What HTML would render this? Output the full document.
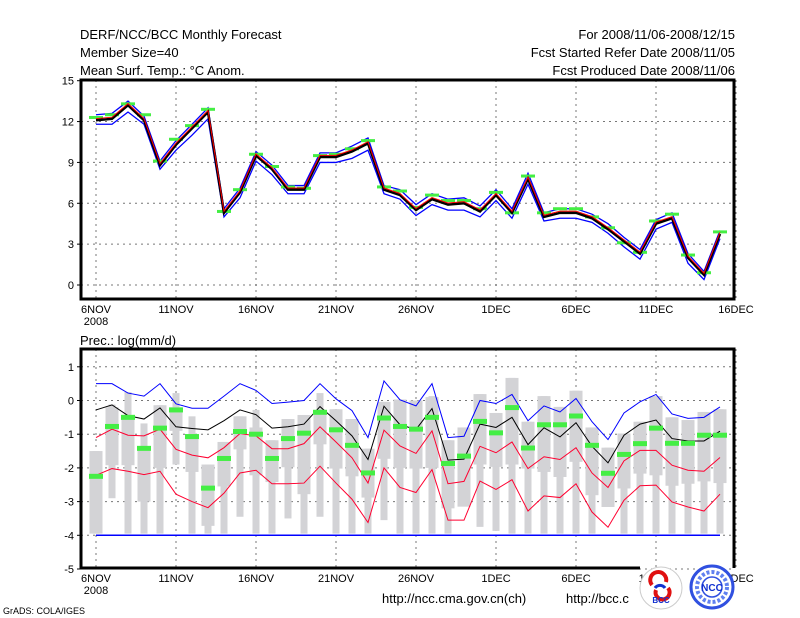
<!DOCTYPE html>
<html><head><meta charset="utf-8"><style>
html,body{margin:0;padding:0;background:#fff;}
svg{display:block;font-family:"Liberation Sans",sans-serif;}
</style></head><body>
<svg id="c" width="800" height="618" viewBox="0 0 800 618">
<g font-size="13" fill="#000">
<text x="80" y="39">DERF/NCC/BCC Monthly Forecast</text>
<text x="80" y="57">Member Size=40</text>
<text x="80" y="75">Mean Surf. Temp.: °C Anom.</text>
<text x="735" y="39" text-anchor="end">For 2008/11/06-2008/12/15</text>
<text x="735" y="57" text-anchor="end">Fcst Started Refer Date 2008/11/05</text>
<text x="735" y="75" text-anchor="end">Fcst Produced Date 2008/11/06</text>
<text x="80" y="345">Prec.: log(mm/d)</text>
<text x="382" y="603">http://ncc.cma.gov.cn(ch)</text>
<text x="566" y="603">http://bcc.c</text>
<text x="3" y="614" font-size="9">GrADS: COLA/IGES</text>
</g>
<g id="top"></g>
<g id="bot"></g>
<g>
<circle cx="661" cy="588" r="21" fill="#fff" stroke="#ccc"/>
<path d="M652 585 a8 8 0 1 1 14 -3 M656 590 a7 7 0 1 0 12 -2" stroke="#e01010" stroke-width="4" fill="none"/>
<path d="M655 588 a6 6 0 0 1 10 0" stroke="#1030d0" stroke-width="3" fill="none"/>
<text x="661" y="603" font-size="8" text-anchor="middle" fill="#1030d0" font-weight="bold">BCC</text>
<circle cx="712" cy="587" r="21" fill="#fff" stroke="#3050e0" stroke-width="3"/>
<circle cx="712" cy="587" r="15" fill="none" stroke="#6080f0" stroke-width="4" stroke-dasharray="3,2"/>
<circle cx="712" cy="587" r="10" fill="none" stroke="#3050e0" stroke-width="1.5"/>
<text x="712" y="591" font-size="10" text-anchor="middle" fill="#1030d0" font-weight="bold">NCC</text>
</g>
</svg>
<script>
const days=["6NOV","11NOV","16NOV","21NOV","26NOV","1DEC","6DEC","11DEC","16DEC"];
const tMean=[12.1,12.2,13.2,12.1,8.8,10.3,11.5,12.7,5.3,6.8,9.5,8.5,7.0,7.0,9.4,9.4,9.8,10.4,7.0,6.6,5.5,6.3,5.9,6.0,5.4,6.6,5.3,7.8,5.0,5.3,5.3,4.9,4.1,3.2,2.3,4.5,4.9,2.0,0.75,3.75];
const tUp=[12.5,12.6,13.5,12.4,9.1,10.6,11.8,13.0,5.6,7.1,9.8,8.8,7.3,7.3,9.7,9.7,10.2,10.8,7.3,7.0,5.9,6.7,6.3,6.4,5.8,7.0,5.6,8.2,5.3,5.6,5.6,5.2,4.5,3.5,2.6,4.8,5.3,2.3,1.0,4.0];
const tLo=[11.8,11.8,12.7,11.8,8.5,9.9,11.0,12.2,5.0,6.4,9.1,8.1,6.7,6.7,9.0,9.0,9.3,9.9,6.7,6.3,5.1,5.9,5.5,5.5,5.0,6.2,4.9,7.4,4.7,4.9,4.9,4.6,3.8,2.8,1.9,4.1,4.6,1.6,0.4,3.4];
const tObs=[12.3,12.5,13.3,12.5,9.1,10.7,11.7,12.9,5.4,7.0,9.6,8.7,7.2,7.1,9.5,9.6,10.0,10.6,7.2,6.9,5.7,6.6,6.2,6.2,5.6,6.8,5.3,8.0,5.3,5.6,5.6,5.0,4.2,3.1,2.4,4.7,5.2,2.2,0.9,3.9];
const pWhiskTop=[-1.5,-0.12,0.25,-0.68,-0.14,0.22,-0.47,-1.9,-1.23,-0.47,-0.28,-1.18,-0.55,-0.43,0.22,-0.26,-0.55,-1.43,-0.04,0.03,0.0,0.13,-1.18,-0.8,0.19,-0.37,0.67,-0.63,0.13,-0.19,0.29,-0.8,-1.4,-0.98,-0.63,0.13,-0.5,-0.58,-0.34,-0.26];
const pWhiskBot=[-3.95,-2.9,-3.95,-3.95,-3.95,-1.9,-3.95,-3.95,-3.95,-3.45,-3.95,-3.95,-3.5,-3.95,-3.45,-3.95,-3.95,-3.95,-3.55,-3.95,-3.95,-3.95,-3.95,-3.1,-3.75,-3.87,-3.95,-3.95,-3.95,-3.95,-3.95,-3.95,-3.16,-3.95,-3.95,-3.95,-3.95,-3.95,-3.95,-3.95];
const pBoxTop=[-1.5,-0.2,-0.45,-1.38,-0.14,-0.2,-1.0,-1.9,-1.23,-0.47,-0.8,-1.18,-0.55,-0.43,-0.28,-0.26,-0.55,-1.43,-0.04,0.03,0.0,0.1,-1.18,-0.8,0.19,-0.37,0.67,-0.63,0.13,-0.19,0.29,-0.8,-1.4,-0.98,-0.63,0.13,-0.5,-0.58,-0.34,-0.26];
const pBoxBot=[-3.95,-1.92,-1.92,-3.0,-2.0,-0.9,-2.12,-3.72,-2.55,-1.45,-2.22,-2.42,-1.98,-2.78,-1.3,-2.02,-2.25,-2.88,-1.73,-2.0,-2.02,-2.0,-3.2,-3.15,-1.9,-1.97,-1.9,-2.02,-2.12,-2.27,-1.82,-2.81,-3.16,-2.61,-2.17,-2.22,-2.53,-2.47,-2.4,-2.45];
const pObs=[-2.25,-0.77,-0.5,-1.42,-0.82,-0.28,-1.07,-2.6,-1.72,-0.92,-1.0,-1.72,-1.13,-0.97,-0.35,-0.87,-1.33,-2.15,-0.52,-0.77,-0.85,-0.5,-1.87,-1.65,-0.62,-0.96,-0.21,-1.41,-0.72,-0.72,-0.46,-1.33,-2.16,-1.6,-1.28,-0.82,-1.27,-1.27,-1.03,-1.03];
const pBlue=[0.5,0.5,0.22,0.13,0.5,-0.1,-0.23,-0.23,0.13,0.5,0.3,-0.09,-0.05,0.0,0.5,0.05,-0.3,-1.1,0.58,0.02,-0.16,0.5,-1.1,-1.06,0.0,-0.09,0.18,-0.6,-0.16,-0.34,0.06,-0.63,-1.16,-0.37,-0.04,0.18,-0.4,-0.53,-0.5,-0.19];
const pBlack=[-0.28,-0.13,-0.45,-0.55,-0.22,-0.78,-0.83,-0.87,-0.6,-0.28,-0.42,-0.82,-0.78,-0.7,-0.18,-0.6,-1.05,-1.75,-0.17,-0.72,-0.86,-0.24,-1.77,-1.74,-0.7,-0.8,-0.5,-1.31,-0.81,-1.08,-0.66,-1.36,-1.85,-1.03,-0.7,-0.58,-1.13,-1.2,-1.2,-0.91];
const pRedUp=[-1.1,-0.85,-1.03,-1.05,-0.85,-1.45,-1.62,-1.7,-1.4,-0.98,-1.05,-1.43,-1.43,-1.28,-0.78,-1.23,-1.7,-2.45,-0.88,-1.35,-1.57,-0.9,-2.47,-2.4,-1.36,-1.55,-1.23,-2.02,-1.67,-1.75,-1.4,-2.15,-2.58,-1.79,-1.48,-1.48,-1.92,-2.07,-2.1,-1.69];
const pRedLo=[-2.22,-2.02,-2.1,-2.2,-2.1,-2.78,-3.0,-3.18,-2.75,-2.15,-2.07,-2.47,-2.47,-2.45,-1.95,-2.45,-2.93,-3.62,-2.0,-2.58,-2.73,-2.05,-3.55,-3.55,-2.39,-2.64,-2.35,-3.28,-2.83,-2.88,-2.47,-3.31,-3.76,-2.96,-2.53,-2.51,-3.01,-3.16,-3.28,-2.78];
const tTicks=[0,3,6,9,12,15];
const pTicks=[1,0,-1,-2,-3,-4,-5];

const NS="http://www.w3.org/2000/svg";
function mk(p,tag,at){const e=document.createElementNS(NS,tag);for(const k in at)e.setAttribute(k,at[k]);p.appendChild(e);return e;}
const X=d=>96+16*d;
const yT=v=>285-13.62*v;
const yP=v=>400.5-33.7*v;
const L=81,R=734;

function frame(g,top,bot,ticks,yf){
  ticks.forEach(v=>{
    const gl=mk(g,'line',{x1:L,x2:R,y1:yf(v),y2:yf(v),stroke:'#777','stroke-dasharray':'2,4','stroke-width':1});
    
    
    const tk=mk(g,'line',{x1:L-4,x2:L,y1:yf(v),y2:yf(v),stroke:'#000'});
    
    
    const t=mk(g,'text',{x:L-7,y:yf(v)+4,'text-anchor':'end','font-size':11});
    t.textContent=String(v);
    
    
  });
  days.forEach((d,i)=>{
    const x=X(i*5);
    const gl=mk(g,'line',{x1:x,x2:x,y1:top,y2:bot,stroke:'#777','stroke-dasharray':'2,4'});
    
    
    const t=mk(g,'text',{x:x,y:bot+14,'text-anchor':'middle','font-size':11});
    t.textContent=d;
    
    
  });
  const y=mk(g,'text',{x:96,y:bot+26,'text-anchor':'middle','font-size':11});
  y.textContent='2008';
  
  
}
function poly(g,arr,yf,color,w,name){
  const p=mk(g,'polyline',{points:arr.map((v,i)=>X(i)+','+yf(v)).join(' '),fill:'none',stroke:color,'stroke-width':w});
  
  
}
const gt=document.getElementById('top');
frame(gt,80,299,tTicks,yT);
poly(gt,tUp,yT,'#0000ff',1.3,'upper-envelope-line');
poly(gt,tLo,yT,'#0000ff',1.3,'lower-envelope-line');
tObs.forEach((v,i)=>{
  const r=mk(gt,'rect',{x:X(i)-7,y:yT(v)-1.5,width:14,height:3,fill:'#44ee44'});
  
  
});
poly(gt,tMean,yT,'#000',2.5,'ensemble-mean-line');
poly(gt,tMean.map(v=>v+0.12),yT,'#ff0000',1,'median-line');
mk(gt,'rect',{x:L,y:80,width:R-L,height:219,fill:'none',stroke:'#000','stroke-width':3});
const gb=document.getElementById('bot');
frame(gb,349,568,pTicks,yP);
pWhiskTop.forEach((v,i)=>{
  const w=mk(gb,'rect',{x:X(i)-3.5,y:yP(v),width:7,height:yP(pWhiskBot[i])-yP(v),fill:'#d3d3d6'});
  
  
  const b=mk(gb,'rect',{x:X(i)-6.5,y:yP(pBoxTop[i]),width:13,height:yP(pBoxBot[i])-yP(pBoxTop[i]),fill:'#d3d3d6'});
  
  
});
const fl=mk(gb,'line',{x1:X(0),x2:X(39),y1:yP(-4),y2:yP(-4),stroke:'#0000ff','stroke-width':1.5});


poly(gb,pBlue,yP,'#0000ff',1,'max-line');
poly(gb,pBlack,yP,'#000',1,'upper-quantile-line');
poly(gb,pRedUp,yP,'#ff0030',1,'mean-line');
poly(gb,pRedLo,yP,'#ff0030',1,'lower-quantile-line');
pObs.forEach((v,i)=>{
  const r=mk(gb,'rect',{x:X(i)-7,y:yP(v)-2.5,width:14,height:5,fill:'#44ee44'});
  
  
});
mk(gb,'path',{d:`M640 568 L${L} 568 L${L} 349 L${R} 349 L${R} 568`,fill:'none',stroke:'#000','stroke-width':3});
</script>
</body></html>
